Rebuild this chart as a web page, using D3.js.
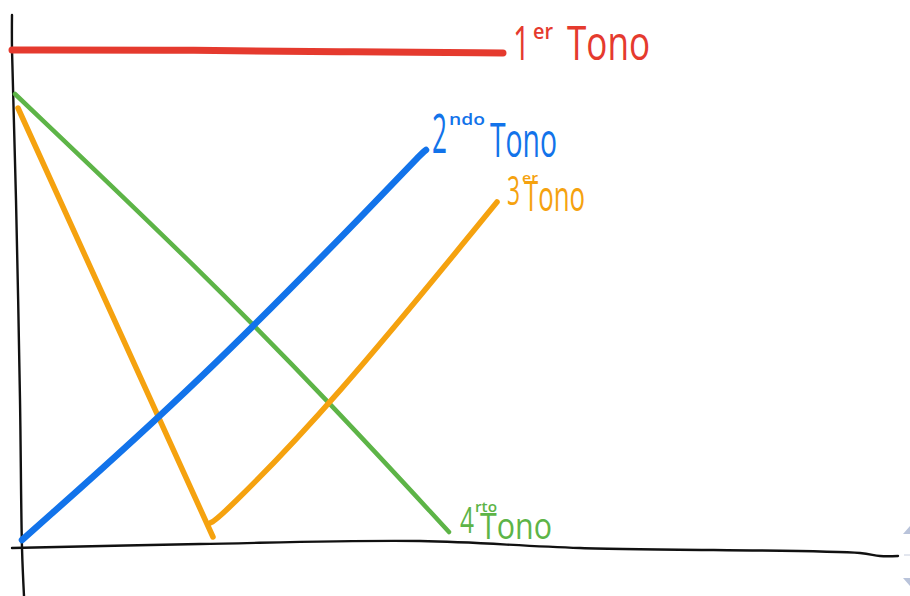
<!DOCTYPE html>
<html>
<head>
<meta charset="utf-8">
<script src="https://cdn.jsdelivr.net/npm/d3@7"></script>
<style>
  html, body { margin: 0; padding: 0; background: #fff; }
  svg { display: block; }
  text { font-family: "Open Sans", "DejaVu Sans", sans-serif; }
</style>
</head>
<body>
<svg id="chart" width="910" height="596"></svg>
<script>
// ---- data (time 0..100, pitch 0..100) ----
const toneNames   = ["1er Tono", "2ndo Tono", "3er Tono", "4rto Tono"];
const toneNumbers = ["1", "2", "3", "4"];
const toneSuffix  = ["er", "ndo", "er", "rto"];
const toneWord    = "Tono";

const tone1 = [[0, 99.6], [37.6, 99.6], [67.6, 99.2], [98.2, 99.0]];
const tone2 = [[2, 1.6], [37.6, 33.2], [75, 71.6], [81.6, 78.6], [82.8, 79.6]];
const tone3Fall = [[1.2, 88], [40.2, 2.2]];
const tone3Rise = [[39.6, 5.0], [41.4, 5.8], [64.2, 29], [97, 69.2]];
const tone4 = [[0.6, 90.8], [37.6, 55.6], [64, 28.6], [87.4, 3.2]];

const yAxisPath = [[0, 106.6], [0, 99.6], [0.8, 69.6], [1.6, 29.6], [2, 0], [2.4, -9.6]];
const xAxisPath = [[0, 0], [37.6, 0.8], [81.6, 1.4], [113.6, 0], [169.6, -1], [173.6, -1.6], [177.2, -1.6]];

const colors = ["#e53a2e", "#1273ea", "#f5a20f", "#5db447"];

// ---- scales ----
const x = d3.scaleLinear().domain([0, 100]).range([12, 512]);
const y = d3.scaleLinear().domain([0, 100]).range([548, 48]);

const svg = d3.select("#chart");
const axisLine = d3.line().x(d => x(d[0])).y(d => y(d[1])).curve(d3.curveCatmullRom.alpha(0.5));
const toneLine = d3.line().x(d => x(d[0])).y(d => y(d[1])).curve(d3.curveBasis);

// axes (hand-drawn)
svg.append("path").attr("d", axisLine(yAxisPath)).attr("fill", "none")
  .attr("stroke", "#111").attr("stroke-width", 2.4).attr("stroke-linecap", "round");
svg.append("path").attr("d", axisLine(xAxisPath)).attr("fill", "none")
  .attr("stroke", "#111").attr("stroke-width", 2.4).attr("stroke-linecap", "round");

// tone lines
const series = [
  {pts: tone1, c: colors[0], w: 7},
  {pts: tone4, c: colors[3], w: 4.5},
  {pts: tone3Fall, c: colors[2], w: 5.5},
  {pts: tone3Rise, c: colors[2], w: 5.5},
  {pts: tone2, c: colors[1], w: 6.5}
];
series.forEach(s => {
  svg.append("path").attr("d", toneLine(s.pts)).attr("fill", "none")
    .attr("stroke", s.c).attr("stroke-width", s.w)
    .attr("stroke-linecap", "round").attr("stroke-linejoin", "round");
});

// labels, anchored at the end of each tone line
const ends = [tone1[tone1.length - 1], tone2[tone2.length - 1], tone3Rise[tone3Rise.length - 1], tone4[tone4.length - 1]];
const labelStyle = [
  {dx: 10, dy: 7, ns: 48, nw: 17, ss: 22, sw: 20, sdx: 20, sdy: -21, ws: 48, wdx: 54, ww: 83, ndy: 0},
  {dx: 6, dy: 7, ns: 55, nw: 15, ss: 17, sw: 36, sdx: 17, sdy: -32, ws: 48, wdx: 58, ww: 67, ndy: -4},
  {dx: 10, dy: 9, ns: 40, nw: 13, ss: 15, sw: 16, sdx: 15, sdy: -28, ws: 42, wdx: 17, ww: 61, ndy: -6},
  {dx: 11, dy: 7, ns: 36, nw: 14, ss: 15, sw: 22, sdx: 15, sdy: -27, ws: 36, wdx: 20, ww: 72, ndy: -6}
];

toneNames.forEach((name, i) => {
  const st = labelStyle[i];
  const ex = x(ends[i][0]) + st.dx;
  const ey = y(ends[i][1]) + st.dy;
  const g = svg.append("g").attr("class", "label").attr("fill", colors[i]);
  g.append("text").attr("x", ex).attr("y", ey + st.ndy)
    .attr("font-size", st.ns).attr("font-weight", 400)
    .attr("textLength", st.nw).attr("lengthAdjust", "spacingAndGlyphs")
    .text(toneNumbers[i]);
  g.append("text").attr("x", ex + st.sdx).attr("y", ey + st.sdy)
    .attr("font-size", st.ss).attr("font-weight", 600)
    .attr("textLength", st.sw).attr("lengthAdjust", "spacingAndGlyphs")
    .text(toneSuffix[i]);
  g.append("text").attr("x", ex + st.wdx).attr("y", ey)
    .attr("font-size", st.ws).attr("font-weight", 400)
    .attr("textLength", st.ww).attr("lengthAdjust", "spacingAndGlyphs")
    .text(toneWord);
});

// faint page-scroll widget at right edge
const sc = svg.append("g").attr("fill", "#b9c3da");
sc.append("path").attr("d", "M903,534 L910,534 L910,526 Z");
sc.append("path").attr("d", "M903,578 L910,578 L910,586 Z");
sc.append("line").attr("x1", 904).attr("x2", 910).attr("y1", 555).attr("y2", 555).attr("stroke", "#c7cede");
</script>
</body>
</html>
